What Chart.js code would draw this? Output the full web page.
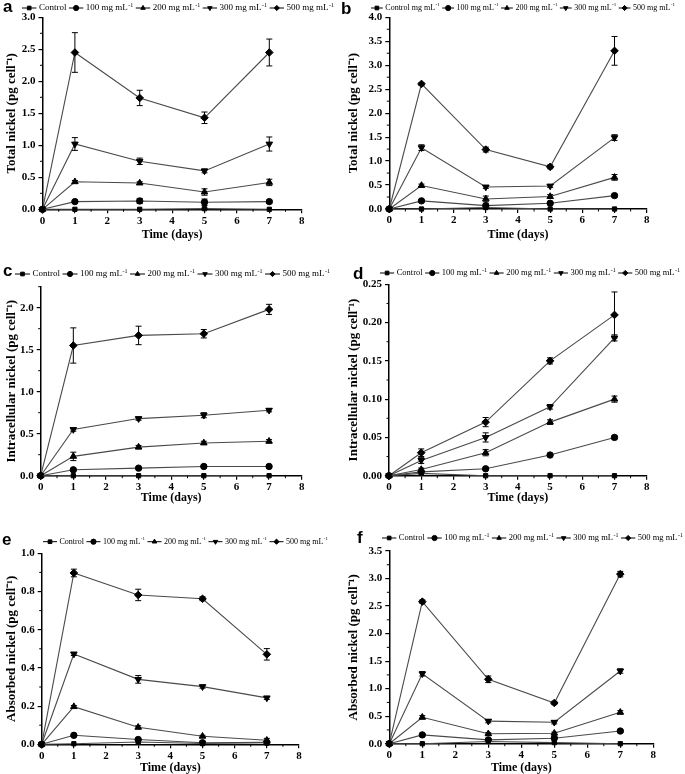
<!DOCTYPE html>
<html lang="en">
<head>
<meta charset="UTF-8">
<title>Nickel content</title>
<script src="https://cdn.jsdelivr.net/npm/chart.js"></script>
<style>
html, body { margin: 0; padding: 0; background: #fff; overflow: hidden; }
#fig { position: relative; width: 685px; height: 774px; }
#fig canvas { position: absolute; }
.tag { position: absolute; font: bold 17px "Liberation Sans", Arial, sans-serif; line-height: 17px; color: #000; }
</style>
</head>
<body>
<div id="fig">
  <canvas id="chartA" width="342" height="245" style="left:0;top:0"></canvas>
  <canvas id="chartB" width="343" height="245" style="left:342px;top:0"></canvas>
  <canvas id="chartC" width="342" height="258" style="left:0;top:250px"></canvas>
  <canvas id="chartD" width="343" height="258" style="left:342px;top:250px"></canvas>
  <canvas id="chartE" width="342" height="268" style="left:0;top:510px"></canvas>
  <canvas id="chartF" width="343" height="268" style="left:342px;top:510px"></canvas>
  <div class="tag" style="left:3px;top:-2px">a</div>
  <div class="tag" style="left:341px;top:0">b</div>
  <div class="tag" style="left:3px;top:262px">c</div>
  <div class="tag" style="left:353px;top:265px">d</div>
  <div class="tag" style="left:2px;top:531px">e</div>
  <div class="tag" style="left:357px;top:529px">f</div>
</div>

<script>
// sampling days and axis ticks
const days = [0, 1, 3, 5, 7];
const xTicks = [0, 1, 2, 3, 4, 5, 6, 7, 8];

// series order: Control, 100, 200, 300, 500 mg mL-1
const seriesNames = ["Control", "100 mg mL", "200 mg mL", "300 mg mL", "500 mg mL"];
const seriesSup = [false, true, true, true, true];
const seriesNamesB = ["Control mg mL", "100 mg mL", "200 mg mL", "300 mg mL", "500 mg mL"];
const seriesSupB = [true, true, true, true, true];

// a - total nickel
const aVals = [
    [0, 0, 0, 0.01, 0],
    [0, 0.12, 0.13, 0.11, 0.12],
    [0, 0.43, 0.41, 0.27, 0.42],
    [0, 1.02, 0.75, 0.60, 1.02],
    [0, 2.45, 1.74, 1.43, 2.45]
];
const aErrs = [
    [0, 0, 0, 0.01, 0],
    [0, 0.02, 0.04, 0.05, 0.02],
    [0, 0.02, 0.02, 0.05, 0.05],
    [0, 0.10, 0.05, 0.03, 0.11],
    [0, 0.31, 0.12, 0.09, 0.21]
];
const aTicks = [0, 0.5, 1.0, 1.5, 2.0, 2.5, 3.0];

// b - total nickel
const bVals = [
    [0, 0, 0.03, 0, 0],
    [0, 0.17, 0.07, 0.12, 0.28],
    [0, 0.49, 0.21, 0.26, 0.66],
    [0, 1.28, 0.46, 0.48, 1.49],
    [0, 2.61, 1.24, 0.88, 3.30]
];
const bErrs = [
    [0, 0, 0.02, 0, 0],
    [0, 0.02, 0.03, 0.02, 0.03],
    [0, 0.03, 0.06, 0.04, 0.06],
    [0, 0.06, 0.03, 0.03, 0.06],
    [0, 0.03, 0.05, 0.04, 0.30]
];
const bTicks = [0, 0.5, 1.0, 1.5, 2.0, 2.5, 3.0, 3.5, 4.0];

// c - intracellular nickel
const cVals = [
    [0, 0, 0, 0, 0],
    [0, 0.07, 0.09, 0.11, 0.11],
    [0, 0.23, 0.34, 0.39, 0.41],
    [0, 0.55, 0.68, 0.72, 0.78],
    [0, 1.55, 1.67, 1.69, 1.98]
];
const cErrs = [
    [0, 0, 0, 0, 0],
    [0, 0.01, 0.01, 0.01, 0.01],
    [0, 0.05, 0.02, 0.02, 0.02],
    [0, 0.02, 0.02, 0.03, 0.02],
    [0, 0.21, 0.11, 0.05, 0.06]
];
const cTicks = [0, 0.5, 1.0, 1.5, 2.0];

// d - intracellular nickel
const dVals = [
    [0, 0.003, 0, 0, 0],
    [0, 0.005, 0.009, 0.027, 0.050],
    [0, 0.008, 0.030, 0.070, 0.100],
    [0, 0.020, 0.050, 0.090, 0.180],
    [0, 0.030, 0.070, 0.150, 0.210]
];
const dErrs = [
    [0, 0, 0, 0, 0],
    [0, 0.001, 0.001, 0.001, 0.002],
    [0, 0.002, 0.004, 0.003, 0.004],
    [0, 0.004, 0.006, 0.003, 0.004],
    [0, 0.005, 0.006, 0.004, 0.030]
];
const dTicks = [0, 0.05, 0.10, 0.15, 0.20, 0.25];

// e - absorbed nickel
const eVals = [
    [0, 0.003, 0.012, 0.004, 0.008],
    [0, 0.047, 0.025, 0.008, 0.010],
    [0, 0.197, 0.089, 0.042, 0.021],
    [0, 0.473, 0.340, 0.302, 0.243],
    [0, 0.897, 0.782, 0.762, 0.471]
];
const eErrs = [
    [0, 0, 0, 0, 0],
    [0, 0.005, 0.005, 0.005, 0.005],
    [0, 0.006, 0.008, 0.005, 0.010],
    [0, 0.008, 0.020, 0.008, 0.008],
    [0, 0.020, 0.030, 0.010, 0.030]
];
const eTicks = [0, 0.2, 0.4, 0.6, 0.8, 1.0];

// f - absorbed nickel
const fVals = [
    [0, 0, 0.04, 0.02, 0],
    [0, 0.16, 0.07, 0.10, 0.23],
    [0, 0.48, 0.18, 0.19, 0.57],
    [0, 1.27, 0.41, 0.39, 1.32],
    [0, 2.58, 1.17, 0.74, 3.08]
];
const fErrs = [
    [0, 0, 0, 0, 0],
    [0, 0.02, 0.02, 0.02, 0.02],
    [0, 0.03, 0.02, 0.02, 0.03],
    [0, 0.04, 0.03, 0.03, 0.04],
    [0, 0.03, 0.06, 0.03, 0.05]
];
const fTicks = [0, 0.5, 1.0, 1.5, 2.0, 2.5, 3.0, 3.5];

const serif = '"Liberation Serif", "Times New Roman", serif';
const markers = [
    { style: "rect", rot: 0, r: 3 },
    { style: "circle", rot: 0, r: 3.2 },
    { style: "triangle", rot: 0, r: 3.8 },
    { style: "triangle", rot: 180, r: 3.8 },
    { style: "rectRot", rot: 0, r: 3.8 }
];

// error bars, minor ticks and the line+marker legend
const figurePlugin = {
    id: "figure",
    afterDatasetsDraw(chart) {
        const ctx = chart.ctx, xs = chart.scales.x, ys = chart.scales.y;
        ctx.save();
        ctx.strokeStyle = "#000";
        ctx.lineWidth = 1;
        chart.data.datasets.forEach(ds => {
            ds.errors.forEach((e, j) => {
                if (!e) return;
                const px = xs.getPixelForValue(ds.data[j].x);
                const top = ys.getPixelForValue(ds.data[j].y + e);
                const bot = ys.getPixelForValue(ds.data[j].y - e);
                ctx.beginPath();
                ctx.moveTo(px, top); ctx.lineTo(px, bot);
                ctx.moveTo(px - 3, top); ctx.lineTo(px + 3, top);
                ctx.moveTo(px - 3, bot); ctx.lineTo(px + 3, bot);
                ctx.stroke();
            });
        });
        ctx.restore();
    },
    afterDraw(chart, args, o) {
        const ctx = chart.ctx, xs = chart.scales.x, ys = chart.scales.y;
        const area = chart.chartArea;
        ctx.save();
        ctx.strokeStyle = "#000";
        ctx.lineWidth = 1;
        ctx.beginPath();
        for (let k = 0; k < 8; k++) {
            const px = xs.getPixelForValue(k + 0.5);
            ctx.moveTo(px, area.bottom); ctx.lineTo(px, area.bottom + 2.5);
        }
        for (let k = 1; k * o.minor <= ys.max + 1e-9; k++) {
            const v = k * o.minor;
            if (Math.abs(v / o.major - Math.round(v / o.major)) < 1e-6) continue;
            const py = ys.getPixelForValue(v);
            ctx.moveTo(area.left - 2.5, py); ctx.lineTo(area.left, py);
        }
        ctx.stroke();

        // legend: fixed small gaps, the line segments take up the rest of the span
        const fs = o.legendFont;
        const supFs = Math.round(fs * 0.68);
        const gap = 2.5;
        ctx.textBaseline = "middle";
        const widths = chart.data.datasets.map(ds => {
            ctx.font = fs + "px " + serif;
            let w = ctx.measureText(ds.label).width;
            if (ds.sup) { ctx.font = supFs + "px " + serif; w += ctx.measureText("-1").width + 0.5; }
            return w;
        });
        const n = widths.length;
        const textTotal = widths.reduce((s, w) => s + w, 0);
        const lineLen = Math.max(10, (o.legendX1 - o.legendX0 - textTotal - gap * (2 * n - 1)) / n);
        let x = o.legendX0;
        const y = o.legendY;
        chart.data.datasets.forEach((ds, i) => {
            ctx.beginPath();
            ctx.moveTo(x, y); ctx.lineTo(x + lineLen, y);
            ctx.stroke();
            ctx.fillStyle = "#000";
            Chart.helpers.drawPoint(ctx, { pointStyle: ds.pointStyle, rotation: ds.pointRotation, radius: 2.6, borderWidth: 1 }, x + lineLen / 2, y);
            x += lineLen + gap;
            ctx.font = fs + "px " + serif;
            ctx.fillText(ds.label, x, y);
            if (ds.sup) {
                const tw = ctx.measureText(ds.label).width;
                ctx.font = supFs + "px " + serif;
                ctx.fillText("-1", x + tw + 0.5, y - 3);
            }
            x += widths[i] + gap;
        });
        ctx.restore();
    }
};

function makePanel(id, vals, errs, names, sups, yTicks, decimals, minor, yTitle, box) {
    const datasets = vals.map((v, i) => ({
        label: names[i],
        sup: sups[i],
        errors: errs[i],
        data: days.map((d, j) => ({ x: d, y: v[j] })),
        borderColor: "#4a4a4a",
        borderWidth: 1.1,
        pointStyle: markers[i].style,
        pointRotation: markers[i].rot,
        pointRadius: markers[i].r,
        pointBackgroundColor: "#000",
        pointBorderColor: "#000",
        pointBorderWidth: 1,
        clip: false
    }));
    const tickFont = { family: serif, size: 11, weight: "bold" };
    new Chart(document.getElementById(id), {
        type: "line",
        data: { datasets: datasets },
        plugins: [figurePlugin],
        options: {
            responsive: false,
            animation: false,
            layout: { padding: { left: 0, top: box.T, right: box.cw - box.R, bottom: 0 } },
            plugins: {
                legend: { display: false },
                tooltip: { enabled: false },
                figure: {
                    minor: minor, major: yTicks[1] - yTicks[0],
                    legendX0: box.lx0, legendX1: box.lx1, legendY: box.ly, legendFont: box.lf
                }
            },
            scales: {
                x: {
                    type: "linear",
                    min: 0, max: 8,
                    afterBuildTicks: s => { s.ticks = xTicks.map(v => ({ value: v })); },
                    afterFit: s => { s.height = box.ch - box.B; },
                    ticks: { font: tickFont, color: "#000", padding: 1, callback: v => v },
                    grid: { drawOnChartArea: false, drawTicks: true, tickLength: 4, color: "#000", lineWidth: 1.2 },
                    border: { display: true, color: "#000", width: 1.5 },
                    title: { display: true, text: "Time (days)", color: "#000", font: { family: serif, size: 12, weight: "bold" }, padding: { top: 0, bottom: 3 } }
                },
                y: {
                    type: "linear",
                    min: 0, max: box.yMax,
                    afterBuildTicks: s => { s.ticks = yTicks.map(v => ({ value: v })); },
                    afterFit: s => { s.width = box.L; },
                    ticks: { font: tickFont, color: "#000", padding: 3, callback: v => Number(v).toFixed(decimals) },
                    grid: { drawOnChartArea: false, drawTicks: true, tickLength: 4, color: "#000", lineWidth: 1.2 },
                    border: { display: true, color: "#000", width: 1.5 },
                    title: { display: true, text: yTitle, color: "#000", font: { family: serif, size: 13, weight: "bold" }, padding: { top: 4, bottom: 0 } }
                }
            }
        }
    });
}

const totalTitle = "Total nickel (pg cell\u207B\u00B9)";
const intraTitle = "Intracellular nickel (pg cell\u207B\u00B9)";
const absTitle = "Absorbed nickel (pg cell\u207B\u00B9)";

makePanel("chartA", aVals, aErrs, seriesNames, seriesSup, aTicks, 1, 0.25, totalTitle,
    { cw: 342, ch: 245, L: 42.5, T: 17.3, R: 301.7, B: 209.3, yMax: 3.0, lx0: 22, lx1: 334, ly: 8, lf: 9 });
makePanel("chartB", bVals, bErrs, seriesNamesB, seriesSupB, bTicks, 1, 0.25, totalTitle,
    { cw: 343, ch: 245, L: 47.3, T: 17.3, R: 304.7, B: 209, yMax: 4.0, lx0: 29, lx1: 333, ly: 8, lf: 8 });
makePanel("chartC", cVals, cErrs, seriesNames, seriesSup, cTicks, 1, 0.25, intraTitle,
    { cw: 342, ch: 258, L: 40.7, T: 36.7, R: 301.7, B: 225.7, yMax: 2.25, lx0: 15, lx1: 330, ly: 24, lf: 9 });
makePanel("chartD", dVals, dErrs, seriesNames, seriesSup, dTicks, 2, 0.025, intraTitle,
    { cw: 343, ch: 258, L: 47, T: 34.3, R: 304.7, B: 225.7, yMax: 0.25, lx0: 38, lx1: 338, ly: 23, lf: 8.5 });
makePanel("chartE", eVals, eErrs, seriesNames, seriesSup, eTicks, 1, 0.1, absTitle,
    { cw: 342, ch: 268, L: 41.7, T: 43.3, R: 299, B: 234.3, yMax: 1.0, lx0: 43, lx1: 328, ly: 31.7, lf: 8 });
makePanel("chartF", fVals, fErrs, seriesNames, seriesSup, fTicks, 1, 0.25, absTitle,
    { cw: 343, ch: 268, L: 47.3, T: 41, R: 311.3, B: 233.7, yMax: 3.5, lx0: 40, lx1: 341, ly: 28, lf: 8.5 });
</script>
</body>
</html>
